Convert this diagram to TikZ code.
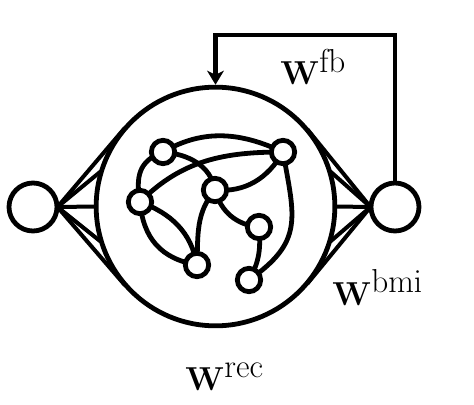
\documentclass[tikz,border=0pt]{standalone}
\usetikzlibrary{arrows.meta,calc}
\begin{document}
\begin{tikzpicture}[x=0.75pt,y=0.75pt,
  ln/.style={line width=3.6pt},
  fan/.style={line width=3pt,line join=round},
  neuron/.style={circle,draw,fill=white,line width=3.6pt,minimum size=17.5pt,inner sep=0pt},
  io/.style={circle,draw,line width=3.6pt,minimum size=36pt,inner sep=0pt},
  lbl/.style={anchor=base west,inner sep=0pt,font=\fontsize{34}{40}\selectfont}]
\useasboundingbox (0,0) rectangle (474,404);
% reservoir
\coordinate (O) at (215.5,197.5);
\node[circle,draw,line width=3.6pt,minimum size=179pt,inner sep=0pt] (big) at (O) {};
% input / output units
\node[io] (in) at (33,197) {};
\node[io] (out) at (395,197) {};
% fans
\coordinate (la) at (57.5,197);
\coordinate (ra) at (370.5,197);
\foreach \a/\n in {180/l0,197/l1,163/l2,221/l3,139/l4}{
  \coordinate (\n) at ($(O)+(\a:120)$);
  \draw[fan] (la) -- (\n);}
\foreach \a/\n in {0/r0,17/r1,-17/r2,40/r3,-40/r4}{
  \coordinate (\n) at ($(O)+(\a:120)$);
  \draw[fan] (ra) -- (\n);}
% feedback
\coordinate (fbR) at (395,369);
\coordinate (fbL) at (215.5,369);
\draw[ln,line join=miter,-{Stealth[length=10.5pt,width=12.5pt,inset=3pt]}] (out.north) -- (fbR) -- (fbL) -- (big.north);
% inner network nodes
\coordinate (A) at (163,252);
\coordinate (B) at (283,252);
\coordinate (C) at (215,214);
\coordinate (D) at (140,202);
\coordinate (E) at (259,177);
\coordinate (F) at (197,139);
\coordinate (G) at (249,124);
\draw[ln] (A) to[out=30,in=155] (B);
\draw[ln] (A) to[out=-5,in=100] (C);
\draw[ln] (D) to[out=45,in=180] (B);
\draw[ln] (A) to[out=200,in=100,looseness=1.2] (D);
\draw[ln] (D) to[out=-85,in=170,looseness=1.1] (F);
\draw[ln] (D) to[out=-20,in=100] (F);
\draw[ln] (C) to[out=-130,in=88] (F);
\draw[ln] (C) to[out=-5,in=-120] (B);
\draw[ln] (C) to[out=-75,in=175] (E);
\draw[ln] (B) to[out=-80,in=35,looseness=1.3] (G);
\draw[ln] (E) to[out=-85,in=60] (G);
\foreach \n in {A,B,C,D,E,F,G}{\node[neuron] (n\n) at (\n) {};}
% labels
\node[lbl] (tfb) at (280,319) {$\mathbf{W}^{\mathrm{fb}}$};
\node[lbl] (tbmi) at (332,99) {$\mathbf{W}^{\mathrm{bmi}}$};
\node[lbl] (trec) at (185,14) {$\mathbf{W}^{\mathrm{rec}}$};
\end{tikzpicture}
\end{document}
